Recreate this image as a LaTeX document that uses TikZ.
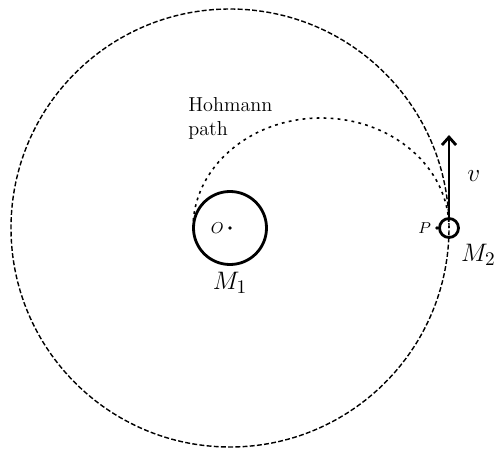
\documentclass[tikz,border=0pt]{standalone}
\usetikzlibrary{arrows.meta, positioning}

\begin{document}
\begin{tikzpicture}[
    orbit/.style={line width=0.8pt, dash pattern=on 2.8pt off 1.3pt},
    transfer/.style={line width=0.9pt, dash pattern=on 1.6pt off 2.4pt},
    body/.style={draw, circle, line width=1.6pt, inner sep=0pt},
    pt/.style={circle, fill, inner sep=0pt, minimum size=2.2pt},
    ptlabel/.style={font=\small, inner sep=1.5pt},
    mass/.style={font=\fontsize{15.5}{18}\selectfont},
    vel/.style={-{Straight Barb[length=4.5pt, width=8pt]}, line width=1.6pt}
  ]
    \useasboundingbox (-4.6,-4.42) rectangle (5.28,4.56);

    % outer orbit and transfer path
    \draw[orbit] (0,0) circle (4.38);
    \draw[transfer] (-0.74,0) arc[start angle=180, end angle=0, x radius=2.56, y radius=2.2];

    \node[body, minimum size=1.46cm] (m1) at (0,0) {};
    \node[body, minimum size=0.38cm] (m2) at (4.38,0) {};
    \node[pt] (o) at (0,0) {};
    \node[pt] (p) at (4.14,0) {};
    \coordinate (vtip) at (4.38,1.86);

    \draw[vel] (m2.north) -- (vtip) node[midway, right=0.22cm, mass] (v) {$v$};

    \node[ptlabel, left=0.6pt of o] (olbl) {$O$};
    \node[ptlabel, left=0.4pt of p] (plbl) {$P$};
    \node[mass, below=0pt of m1] (m1lbl) {$M_1$};
    \node[mass, inner sep=0pt, below right=0.17cm and 0.08cm of m2] (m2lbl) {$M_2$};
    \node[align=left, anchor=north west, inner sep=0pt, font=\fontsize{11.5}{13.5}\selectfont] (hohmann)
      at (-0.84,2.62) {Hohmann\\path};
  \end{tikzpicture}
\end{document}
